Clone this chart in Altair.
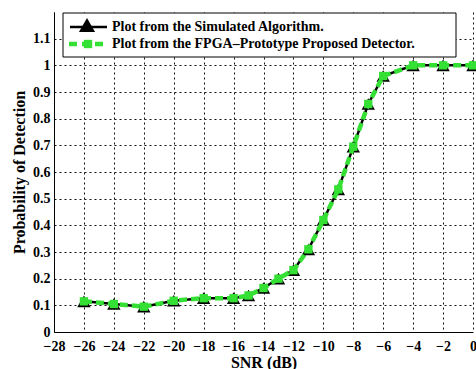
import altair as alt
import pandas as pd

# ---- data ----
snr_db = [-26, -24, -22, -20, -18, -16, -15, -14, -13, -12, -11, -10, -9, -8, -7, -6, -4, -2, 0]
pd_simulated = [0.115, 0.105, 0.095, 0.117, 0.127, 0.127, 0.137, 0.165, 0.200, 0.232,
                0.310, 0.420, 0.535, 0.695, 0.855, 0.960, 1.0, 1.0, 1.0]
pd_fpga = [0.115, 0.105, 0.095, 0.117, 0.127, 0.127, 0.137, 0.165, 0.200, 0.232,
           0.310, 0.420, 0.535, 0.695, 0.855, 0.960, 1.0, 1.0, 1.0]
series_names = ["Plot from the Simulated Algorithm.",
                "Plot from the FPGA\u2013Prototype Proposed Detector."]
x_ticks = [-28, -26, -24, -22, -20, -18, -16, -14, -12, -10, -8, -6, -4, -2, 0]
y_ticks = [0, 0.1, 0.2, 0.3, 0.4, 0.5, 0.6, 0.7, 0.8, 0.9, 1.0, 1.1]

FONT = "Liberation Serif"
GREEN = "#33e033"

df_sim = pd.DataFrame({"snr": snr_db, "pd": pd_simulated, "series": series_names[0]})
df_fpga = pd.DataFrame({"snr": snr_db, "pd": pd_fpga, "series": series_names[1]})

x_axis = alt.Axis(values=x_ticks, format="d", titleY=35, titleBaseline="alphabetic",
                  labelPadding=7)
y_axis = alt.Axis(values=y_ticks, format="~g", titleX=-30, titleBaseline="alphabetic",
                  labelPadding=4)
x_enc = alt.X("snr:Q", title="SNR (dB)",
              scale=alt.Scale(domain=[-28, 0], nice=False, zero=False), axis=x_axis)
y_enc = alt.Y("pd:Q", title="Probability of Detection",
              scale=alt.Scale(domain=[0, 1.2], nice=False), axis=y_axis)

sim_line = alt.Chart(df_sim).mark_line(color="black", strokeWidth=2.5).encode(x=x_enc, y=y_enc)
sim_pts = alt.Chart(df_sim).mark_point(shape="triangle-up", filled=True, color="black",
                                       size=180, opacity=1).encode(x=x_enc, y=y_enc)
fpga_line = alt.Chart(df_fpga).mark_line(color=GREEN, strokeWidth=4.5,
                                         strokeDash=[8, 4]).encode(x=x_enc, y=y_enc)
fpga_pts = alt.Chart(df_fpga).mark_point(shape="square", filled=True, color=GREEN,
                                         size=70, opacity=1).encode(x=x_enc, y=y_enc)

# ---- legend ----
leg1 = pd.DataFrame({"label": [series_names[0]]})
leg2 = pd.DataFrame({"label": [series_names[1]]})
leg_box = alt.Chart(leg1).mark_rect(fill="white", stroke="black", strokeWidth=1).encode(
    x=alt.value(9), x2=alt.value(402), y=alt.value(1), y2=alt.value(45))
leg_line1 = alt.Chart(leg1).mark_rule(color="black", strokeWidth=2.5).encode(
    x=alt.value(16), x2=alt.value(53), y=alt.value(15))
leg_tri = alt.Chart(leg1).mark_point(shape="triangle-up", filled=True, color="black",
                                     size=260, opacity=1).encode(x=alt.value(33), y=alt.value(13))
leg_text1 = alt.Chart(leg1).mark_text(align="left", baseline="middle", font=FONT,
                                      fontSize=14, fontWeight="bold", color="black").encode(
    x=alt.value(58), y=alt.value(15), text="label:N")
leg_line2 = alt.Chart(leg2).mark_rule(color=GREEN, strokeWidth=4.5, strokeDash=[8, 5]).encode(
    x=alt.value(15), x2=alt.value(53), y=alt.value(32))
leg_sq = alt.Chart(leg2).mark_point(shape="square", filled=True, color=GREEN,
                                    size=70, opacity=1).encode(x=alt.value(34), y=alt.value(32))
leg_text2 = alt.Chart(leg2).mark_text(align="left", baseline="middle", font=FONT,
                                      fontSize=14, fontWeight="bold", color="black").encode(
    x=alt.value(58), y=alt.value(32), text="label:N")

chart = alt.layer(
    sim_line, sim_pts, fpga_line, fpga_pts,
    leg_box, leg_line1, leg_tri, leg_text1, leg_line2, leg_sq, leg_text2,
).properties(
    width=419, height=320,
    autosize=alt.AutoSizeParams(type="none"),
    padding={"left": 54, "top": 12, "right": 3, "bottom": 37},
    background="white",
).configure_view(stroke=None).configure_axis(
    labelFont=FONT, labelFontSize=14, labelFontWeight="bold", labelColor="black",
    titleFont=FONT, titleFontSize=16, titleFontWeight="bold", titleColor="black",
    domainColor="black", domainWidth=1,
    ticks=False, labelOverlap=False, labelFlush=False, labelBound=False,
    grid=True, gridColor="#111111", gridDash=[2, 3], gridWidth=1, gridOpacity=1,
)

chart.save("out.html", embed_options={"renderer": "svg", "actions": False})
